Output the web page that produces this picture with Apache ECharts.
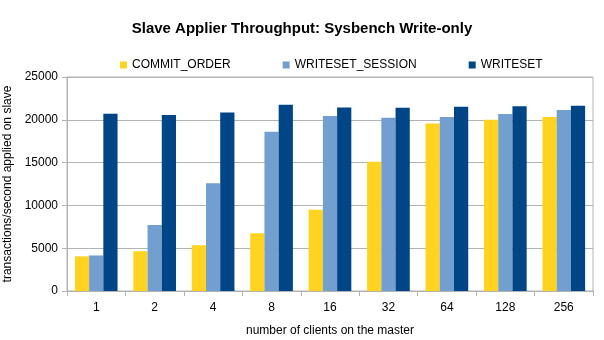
<!DOCTYPE html>
<html>
<head>
<meta charset="utf-8">
<script src="https://cdn.jsdelivr.net/npm/echarts@6/dist/echarts.min.js"></script>
<style>html,body{margin:0;padding:0;background:#fff;}#c{width:604px;height:340px;}</style>
</head>
<body>
<div id="c"></div>
<script>
var categories = ['1', '2', '4', '8', '16', '32', '64', '128', '256'];
var commitOrder = [4050, 4650, 5350, 6750, 9500, 15100, 19580, 20000, 20320];
var writesetSession = [4150, 7700, 12600, 18600, 20430, 20240, 20320, 20670, 21140];
var writeset = [20700, 20550, 20850, 21750, 21450, 21410, 21530, 21570, 21650];
var yTicks = [0, 5000, 10000, 15000, 20000, 25000];

var FONT = '"Liberation Sans", Arial, sans-serif';
var chart = echarts.init(document.getElementById('c'), null, {renderer: 'canvas'});
chart.setOption({
  animation: false,
  backgroundColor: '#ffffff',
  title: {
    text: 'Slave Applier Throughput: Sysbench Write-only',
    left: 'center', top: 16,
    textStyle: {fontFamily: FONT, fontSize: 15, fontWeight: 'bold', color: '#000'}
  },
  legend: {
    top: 54, left: 115,
    icon: 'rect', itemWidth: 7, itemHeight: 7, itemGap: 52,
    textStyle: {fontFamily: FONT, fontSize: 12, color: '#000'},
    data: ['COMMIT_ORDER', 'WRITESET_SESSION', 'WRITESET']
  },
  grid: {left: 67, right: 11, top: 77, bottom: 49, show: true, borderColor: '#b3b3b3', borderWidth: 1, outerBoundsMode: 'none', containLabel: false},
  xAxis: {
    type: 'category', data: categories,
    name: 'number of clients on the master', nameLocation: 'middle', nameGap: 34,
    nameTextStyle: {fontFamily: FONT, fontSize: 12, color: '#000'},
    axisLine: {lineStyle: {color: '#b3b3b3'}},
    axisTick: {show: true, length: 5, lineStyle: {color: '#b3b3b3'}},
    axisLabel: {fontFamily: FONT, fontSize: 12, color: '#000', margin: 11}
  },
  yAxis: {
    type: 'value', min: yTicks[0], max: yTicks[yTicks.length - 1], interval: 5000,
    name: 'transactions/second applied on slave', nameLocation: 'middle', nameGap: 47,
    nameTextStyle: {fontFamily: FONT, fontSize: 12, color: '#000'},
    axisLine: {show: true, lineStyle: {color: '#b3b3b3'}},
    axisTick: {show: true, length: 5, lineStyle: {color: '#b3b3b3'}},
    axisLabel: {fontFamily: FONT, fontSize: 12, color: '#000', margin: 9, formatter: function (v) { return String(v); }},
    splitLine: {lineStyle: {color: '#b3b3b3'}}
  },
  series: [
    {name: 'COMMIT_ORDER', type: 'bar', data: commitOrder, barGap: '0%', barCategoryGap: '27%', itemStyle: {color: '#ffd320'}},
    {name: 'WRITESET_SESSION', type: 'bar', data: writesetSession, itemStyle: {color: '#729fcf'}},
    {name: 'WRITESET', type: 'bar', data: writeset, itemStyle: {color: '#004586'}}
  ]
});
</script>
</body>
</html>
